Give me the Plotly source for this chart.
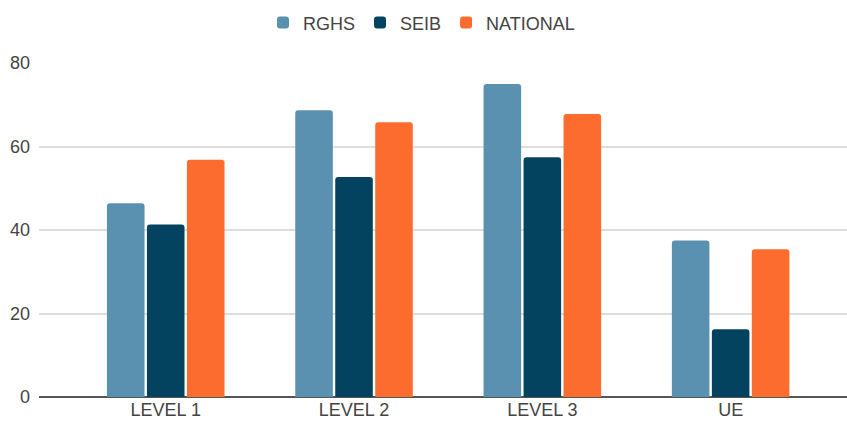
import plotly.graph_objects as go

categories = ["LEVEL 1", "LEVEL 2", "LEVEL 3", "UE"]
rghs = [46.4, 68.7, 75.0, 37.5]
seib = [41.3, 52.7, 57.4, 16.2]
national = [56.8, 65.8, 67.8, 35.4]
y_ticks = [0, 20, 40, 60, 80]

colors = {"RGHS": "#5b91b0", "SEIB": "#03435f", "NATIONAL": "#fd6c2f"}
FONT = "Liberation Sans, Arial, sans-serif"

fig = go.Figure()
for name, vals in [("RGHS", rghs), ("SEIB", seib), ("NATIONAL", national)]:
    fig.add_trace(go.Bar(
        name=name, x=list(range(len(categories))), y=vals,
        marker=dict(color=colors[name], line=dict(width=0)),
    ))

fig.update_layout(
    width=847, height=427,
    margin=dict(l=39, r=0, t=63, b=30, pad=0),
    paper_bgcolor="white", plot_bgcolor="white",
    barmode="group", bargap=0.363, bargroupgap=0.06,
    barcornerradius=3,
    font=dict(family=FONT, size=18, color="#444444"),
    showlegend=True,
    legend=dict(
        orientation="h", x=(263 - 39) / 808, xanchor="left", y=1.12, yanchor="middle",
        font=dict(family=FONT, size=18, color="#444444"),
        traceorder="normal",
    ),
    xaxis=dict(
        tickmode="array", tickvals=list(range(len(categories))), ticktext=categories,
        range=[-0.673, 3.618], showgrid=False, zeroline=False,
        showline=False, ticks="", tickfont=dict(size=18, color="#444444"),
    ),
    yaxis=dict(
        range=[0, 80], tickmode="array", tickvals=y_ticks,
        showgrid=True, gridcolor="#dddddd", gridwidth=1.5,
        zeroline=True, zerolinecolor="#555555", zerolinewidth=2,
        showline=False, ticks="", ticklabelstandoff=8,
        tickfont=dict(size=18, color="#444444"),
    ),
)

fig.write_html("out.html")
